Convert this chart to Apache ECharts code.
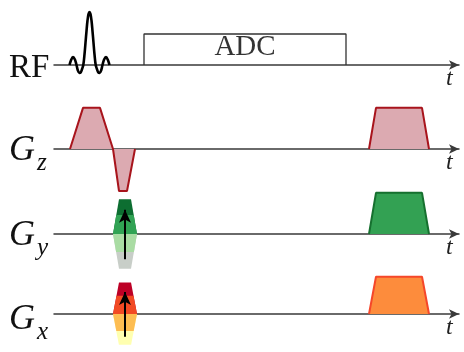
<!DOCTYPE html>
<html>
<head>
<meta charset="utf-8">
<script src="https://cdn.jsdelivr.net/npm/echarts@6/dist/echarts.min.js"></script>
<style>html,body{margin:0;padding:0;background:#fff}#c{width:464px;height:352px}</style>
</head>
<body>
<div id="c"></div>
<script>
// ---- data (time in arbitrary units, amplitudes normalised) ----
var rowLabels = ['RF', 'G', 'G', 'G'];
var rowSubs = ['', 'z', 'y', 'x'];
var rfPulse = [[1.55,0],[1.70,0.09],[1.90,0.15],[2.10,0.10],[2.25,0],[2.38,-0.10],[2.53,-0.15],[2.67,-0.14],[2.80,-0.08],[2.93,0],
  [3.05,0.20],[3.15,0.42],[3.25,0.64],[3.35,0.84],[3.45,0.96],[3.55,1],[3.65,0.96],[3.75,0.84],[3.85,0.64],[3.95,0.42],[4.05,0.20],
  [4.17,0],[4.30,-0.08],[4.43,-0.14],[4.57,-0.15],[4.72,-0.10],[4.85,0],[5.00,0.10],[5.20,0.15],[5.40,0.09],[5.55,0]];
var adcWindow = [[9.0,0],[9.0,0.585],[29.2,0.585],[29.2,0]];
var adcText = 'ADC';
var adcLabelPos = [19.1, 0.33];
var gzExcite = [[1.6,0],[2.9,0.98],[4.6,0.98],[5.9,0],[6.5,-1],[7.3,-1],[8.1,0]];
var readLobe = [[31.5,0],[32.2,0.98],[36.8,0.98],[37.5,0]];
var gyPhaseSteps = [
  [[5.9,0],[6.5,0.83],[7.7,0.83],[8.3,0]],
  [[5.9,0],[6.23,0.45],[7.97,0.45],[8.3,0]],
  [[5.9,0],[6.5,-0.83],[7.7,-0.83],[8.3,0]],
  [[5.9,0],[6.21,-0.43],[7.99,-0.43],[8.3,0]]
];
var gxPhaseSteps = [
  [[5.9,0],[6.5,0.83],[7.7,0.83],[8.3,0]],
  [[5.9,0],[6.25,0.48],[7.95,0.48],[8.3,0]],
  [[5.9,0],[6.49,-0.81],[7.71,-0.81],[8.3,0]],
  [[5.9,0],[6.23,-0.45],[7.97,-0.45],[8.3,0]]
];
var gyStepColors = ['#0d6e31', '#31a354', '#c8cec8', '#a9dca3'];
var gxStepColors = ['#bd0026', '#f24a24', '#ffffb0', '#fdbd52'];
var phaseArrow = [[7.1,-0.6],[7.1,0.58]];
var tLabel = 't';

// ---- layout ----
var serif = '"Liberation Serif", "DejaVu Serif", serif';
var rows = [
  {top: 12, height: 63.6, ymin: -0.2, ymax: 1, base: 65},
  {top: 107, height: 84, ymin: -1, ymax: 1, base: 149},
  {top: 192, height: 84, ymin: -1, ymax: 1, base: 234},
  {top: 276, height: 84, ymin: -1, ymax: 1, base: 318}
];
var grids = [], xAxes = [], yAxes = [], series = [], graphics = [];
rows.forEach(function (r, i) {
  grids.push({left: 54, right: 5, top: r.top, height: r.height});
  xAxes.push({
    gridIndex: i, type: 'value', min: 0, max: 40.5,
    axisLine: {onZero: true, lineStyle: {color: '#3a3a3a', width: 1.5}, symbol: ['none', 'arrow'], symbolSize: [7, 10]},
    axisTick: {show: false}, axisLabel: {show: false}, splitLine: {show: false},
    name: tLabel, nameLocation: 'end', nameGap: -13,
    nameTextStyle: {fontFamily: serif, fontStyle: 'italic', fontSize: 24, color: '#222', verticalAlign: 'top', padding: [2, 0, 0, 0]}
  });
  yAxes.push({gridIndex: i, type: 'value', min: r.ymin, max: r.ymax, show: false});
  graphics.push({type: 'text', left: 9, top: r.base - (i === 0 ? 13 : 16), style: {
    text: rowLabels[i], font: (i === 0 ? '' : 'italic ') + (i === 0 ? '33px ' : '36px ') + serif, fill: '#111'}});
  if (rowSubs[i]) {
    graphics.push({type: 'text', left: 37, top: r.base + 2, style: {
      text: rowSubs[i], font: 'italic 25px ' + serif, fill: '#111'}});
  }
});

function shape(idx, data, fill, stroke, width) {
  return {
    type: 'line', xAxisIndex: idx, yAxisIndex: idx, data: data, symbol: 'none', clip: false,
    lineStyle: {color: stroke, width: width}, areaStyle: fill ? {color: fill, opacity: 1} : null,
    silent: true, z: 3
  };
}
// RF row
series.push({type: 'line', xAxisIndex: 0, yAxisIndex: 0, data: rfPulse, symbol: 'none', smooth: 0.35, clip: false,
  lineStyle: {color: '#000', width: 2.6}, silent: true, z: 3});
series.push({type: 'line', xAxisIndex: 0, yAxisIndex: 0, data: adcWindow, symbol: 'none', clip: false,
  lineStyle: {color: '#333', width: 1.3}, silent: true, z: 3});
series.push({type: 'scatter', xAxisIndex: 0, yAxisIndex: 0, data: [adcLabelPos], symbolSize: 0, silent: true,
  label: {show: true, position: 'inside', formatter: adcText, fontFamily: serif, fontSize: 29, color: '#000'}});
// Gz
series.push(shape(1, gzExcite, '#dcaab1', '#a8141c', 2));
series.push(shape(1, readLobe, '#dcaab1', '#a8141c', 2));
// Gy
gyPhaseSteps.forEach(function (d, k) { series.push(shape(2, d, gyStepColors[k], gyStepColors[k], 0)); });
series.push(shape(2, readLobe, '#33a153', '#16702f', 2));
// Gx
gxPhaseSteps.forEach(function (d, k) { series.push(shape(3, d, gxStepColors[k], gxStepColors[k], 0)); });
series.push(shape(3, readLobe, '#fd8c3c', '#f5472a', 2));
// arrows
[2, 3].forEach(function (idx) {
  series.push({type: 'line', xAxisIndex: idx, yAxisIndex: idx, data: [], silent: true, z: 5,
    markLine: {silent: true, symbol: ['none', 'arrow'], symbolSize: [9, 13], label: {show: false}, animation: false,
      lineStyle: {color: '#000', width: 2, type: 'solid'},
      data: [[{coord: phaseArrow[0]}, {coord: phaseArrow[1]}]]}});
});

var chart = echarts.init(document.getElementById('c'), null, {renderer: 'canvas'});
chart.setOption({
  animation: false, backgroundColor: '#fff',
  grid: grids, xAxis: xAxes, yAxis: yAxes, series: series, graphic: graphics
});
</script>
</body>
</html>
